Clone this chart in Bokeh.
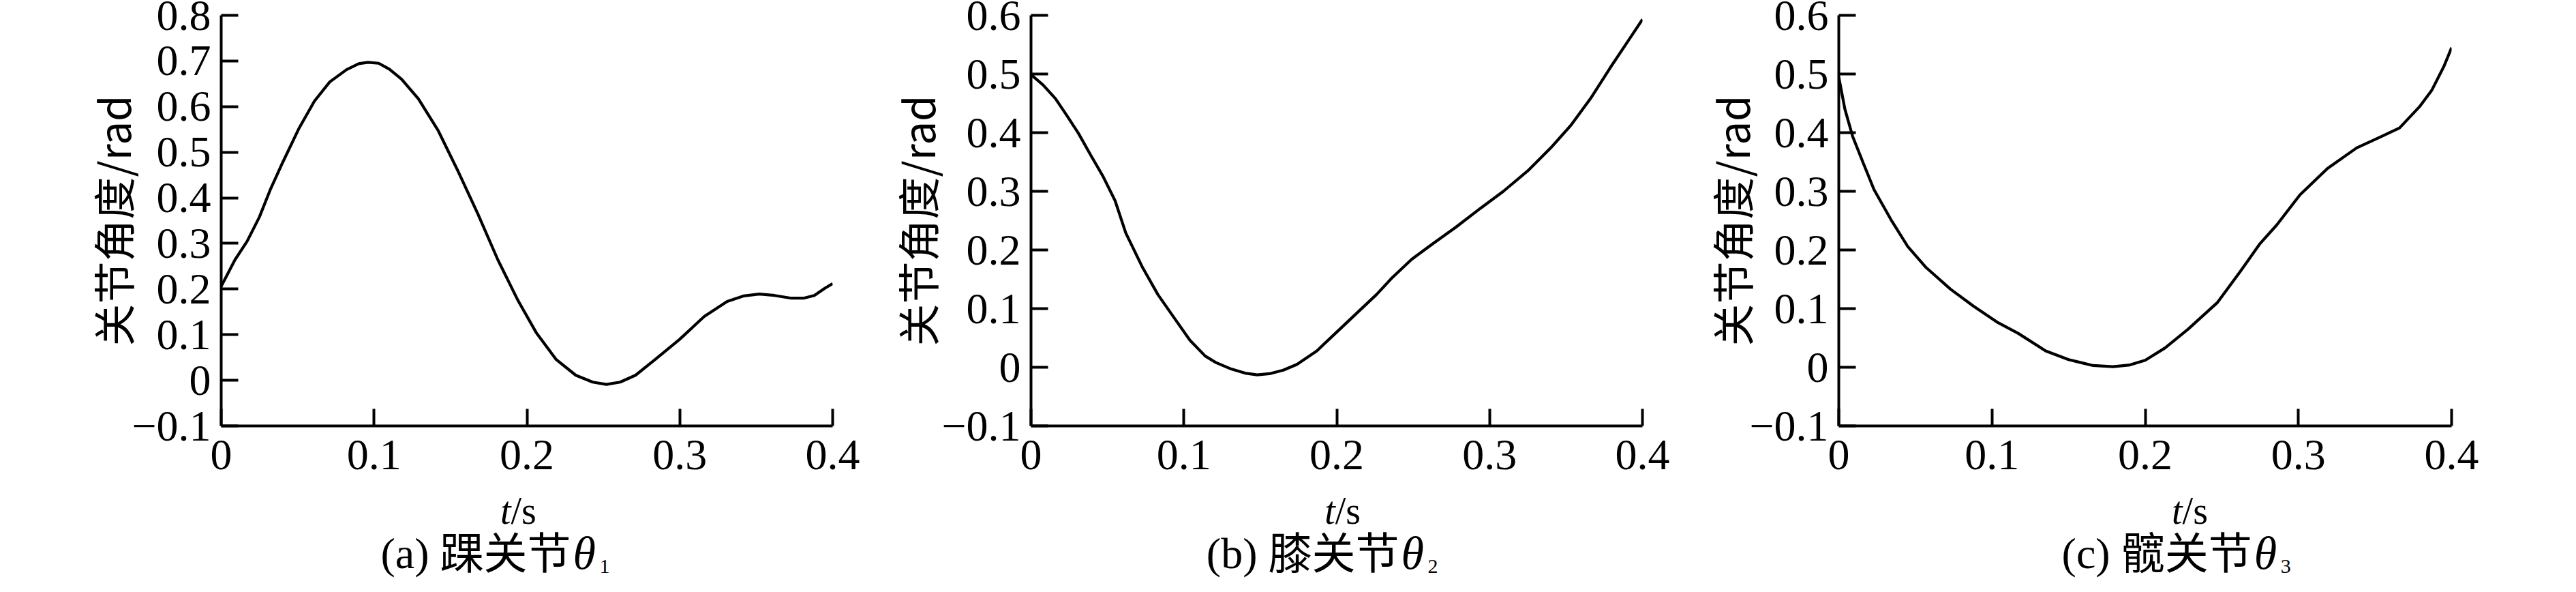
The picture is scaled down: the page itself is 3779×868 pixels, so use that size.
from bokeh.plotting import figure
from bokeh.layouts import row, column
from bokeh.models import Range1d, FixedTicker, CustomJSTickFormatter
from bokeh.core.properties import value
from bokeh.embed import file_html
from bokeh.resources import INLINE

# ---------------- data ----------------
ankle_t = [0.0, 0.009, 0.017, 0.025, 0.032, 0.040, 0.051, 0.061, 0.071, 0.082,
           0.090, 0.096, 0.103, 0.110, 0.118, 0.129, 0.142, 0.155, 0.168, 0.181,
           0.194, 0.206, 0.219, 0.232, 0.243, 0.252, 0.261, 0.271, 0.284, 0.300,
           0.316, 0.331, 0.342, 0.352, 0.362, 0.373, 0.381, 0.388, 0.395, 0.400]
ankle_v = [0.206, 0.264, 0.305, 0.358, 0.417, 0.476, 0.553, 0.612, 0.654, 0.681,
           0.694, 0.697, 0.695, 0.682, 0.660, 0.617, 0.547, 0.458, 0.364, 0.264,
           0.176, 0.105, 0.046, 0.011, -0.004, -0.009, -0.004, 0.011, 0.046, 0.090,
           0.140, 0.173, 0.185, 0.189, 0.186, 0.180, 0.180, 0.186, 0.202, 0.212]

knee_t = [0.0, 0.008, 0.016, 0.023, 0.031, 0.039, 0.047, 0.055, 0.062, 0.073,
          0.083, 0.094, 0.104, 0.114, 0.121, 0.131, 0.140, 0.148, 0.156, 0.165,
          0.174, 0.187, 0.200, 0.213, 0.226, 0.236, 0.249, 0.262, 0.278, 0.294,
          0.309, 0.325, 0.340, 0.353, 0.366, 0.379, 0.390, 0.400]
knee_v = [0.499, 0.481, 0.458, 0.431, 0.399, 0.362, 0.326, 0.284, 0.229, 0.170,
          0.124, 0.083, 0.046, 0.019, 0.008, -0.003, -0.010, -0.013, -0.011, -0.005,
          0.005, 0.028, 0.060, 0.092, 0.124, 0.152, 0.184, 0.209, 0.239, 0.271,
          0.300, 0.335, 0.374, 0.412, 0.458, 0.511, 0.554, 0.593]

hip_t = [0.0, 0.004, 0.009, 0.016, 0.023, 0.034, 0.045, 0.057, 0.073, 0.088,
         0.104, 0.117, 0.135, 0.150, 0.166, 0.179, 0.190, 0.200, 0.213, 0.228,
         0.247, 0.262, 0.275, 0.286, 0.301, 0.319, 0.338, 0.353, 0.366, 0.379,
         0.387, 0.395, 0.400]
hip_v = [0.495, 0.440, 0.394, 0.348, 0.303, 0.252, 0.206, 0.170, 0.133, 0.104,
         0.076, 0.058, 0.028, 0.013, 0.003, 0.001, 0.004, 0.012, 0.033, 0.065,
         0.110, 0.163, 0.211, 0.243, 0.294, 0.339, 0.374, 0.392, 0.408, 0.444,
         0.472, 0.513, 0.545]

x_ticks = [0, 0.1, 0.2, 0.3, 0.4]
ankle_y_ticks = [-0.1, 0, 0.1, 0.2, 0.3, 0.4, 0.5, 0.6, 0.7, 0.8]
knee_y_ticks = [-0.1, 0, 0.1, 0.2, 0.3, 0.4, 0.5, 0.6]
hip_y_ticks = [-0.1, 0, 0.1, 0.2, 0.3, 0.4, 0.5, 0.6]

y_label = "关节角度/rad"
x_label_var = "t"
x_label_unit = "/s"
caption_tags = ["(a)", "(b)", "(c)"]
caption_names = ["踝关节", "膝关节", "髋关节"]
theta = "θ"
subscripts = ["1", "2", "3"]

# ---------------- layout / styling ----------------
SERIF = "Liberation Serif"
CJK = "Noto Sans CJK SC"

BORDER_TOP = 22
FRAME_H = 602
BORDER_BOTTOM = 92
PLOT_H = BORDER_TOP + FRAME_H + BORDER_BOTTOM        # page rows 8 .. 724
CAP_TOP, CAP_BOTTOM = 8 + PLOT_H, 860                # caption strip, in page rows
CAP_H = CAP_BOTTOM - CAP_TOP

fmt_code = """
const v = Math.round(tick * 10) / 10;
if (Math.abs(v) < 1e-9) return "0";
const s = Math.abs(v).toFixed(1);
return (v < 0 ? "\\u2212" : "") + s;
"""


def panel(t, v, yticks, width, left, right, label_standoff, ts_anchor, cap_anchor, tag, name, sub):
    xr = Range1d(0, 0.4)
    p = figure(width=width, height=PLOT_H, output_backend="svg", toolbar_location=None,
               x_range=xr, y_range=Range1d(yticks[0], yticks[-1]),
               min_border_left=left, min_border_right=right,
               min_border_top=BORDER_TOP, min_border_bottom=BORDER_BOTTOM)
    p.background_fill_color = "white"
    p.border_fill_color = "white"
    p.outline_line_color = None
    p.grid.visible = False

    for ax, ticks, standoff in ((p.xaxis[0], x_ticks, 21), (p.yaxis[0], yticks, 15)):
        ax.ticker = FixedTicker(ticks=ticks)
        ax.formatter = CustomJSTickFormatter(code=fmt_code)
        ax.axis_line_width = 4
        ax.axis_line_color = "black"
        ax.major_tick_line_width = 4
        ax.major_tick_line_color = "black"
        ax.major_tick_in = 25
        ax.major_tick_out = 0
        ax.minor_tick_line_color = None
        ax.major_label_text_font = SERIF
        ax.major_label_text_font_size = "64px"
        ax.major_label_text_color = "black"
        ax.major_label_standoff = standoff

    ya = p.yaxis[0]
    ya.axis_label = y_label
    ya.axis_label_text_font = CJK
    ya.axis_label_text_font_size = "62px"
    ya.axis_label_text_font_style = "normal"
    ya.axis_label_text_color = "black"
    ya.axis_label_standoff = label_standoff

    p.line(t, v, line_width=4.2, line_color="black")

    # caption strip below the plot: y data == page row (texts centred vertically on y)
    c = figure(width=width, height=CAP_H, output_backend="svg", toolbar_location=None,
               x_range=xr, y_range=Range1d(CAP_BOTTOM, CAP_TOP),
               x_axis_type=None, y_axis_type=None,
               min_border_left=left, min_border_right=right,
               min_border_top=0, min_border_bottom=0)
    c.background_fill_color = "white"
    c.border_fill_color = "white"
    c.outline_line_color = None

    def txt(x, y, s, size, align, font=SERIF, style="normal", dx=0):
        c.text(x=[x], y=[y], text=[s], x_offset=dx,
               text_font=value(font), text_font_size=value(f"{size}px"),
               text_font_style=value(style), text_align=value(align),
               text_baseline=value("middle"), text_color="black")

    # x-axis title: italic t + /s
    txt(ts_anchor, 756, x_label_var, 56, "right", style="italic")
    txt(ts_anchor, 756, x_label_unit, 56, "left")
    # caption: (x) + 名称 + italic theta + subscript
    txt(cap_anchor, 819, tag, 64, "right", dx=-208)
    txt(cap_anchor, 813, name, 64, "right", font=CJK)
    txt(cap_anchor, 818, theta, 68, "left", style="italic", dx=3)
    txt(cap_anchor, 838, sub, 30, "left", dx=42)
    return column(p, c)


pa = panel(ankle_t, ankle_v, ankle_y_ticks, 1282, 324, 61, -20, 0.1895, 0.2288,
           caption_tags[0], caption_names[0], subscripts[0])
pb = panel(knee_t, knee_v, knee_y_ticks, 1200, 230, 73, -12, 0.199, 0.2408,
           caption_tags[1], caption_names[1], subscripts[1])
pc = panel(hip_t, hip_v, hip_y_ticks, 1281, 215, 167, -22, 0.2243, 0.2697,
           caption_tags[2], caption_names[2], subscripts[2])

layout = row(pa, pb, pc)
open("out.html", "w").write(file_html(layout, INLINE))
